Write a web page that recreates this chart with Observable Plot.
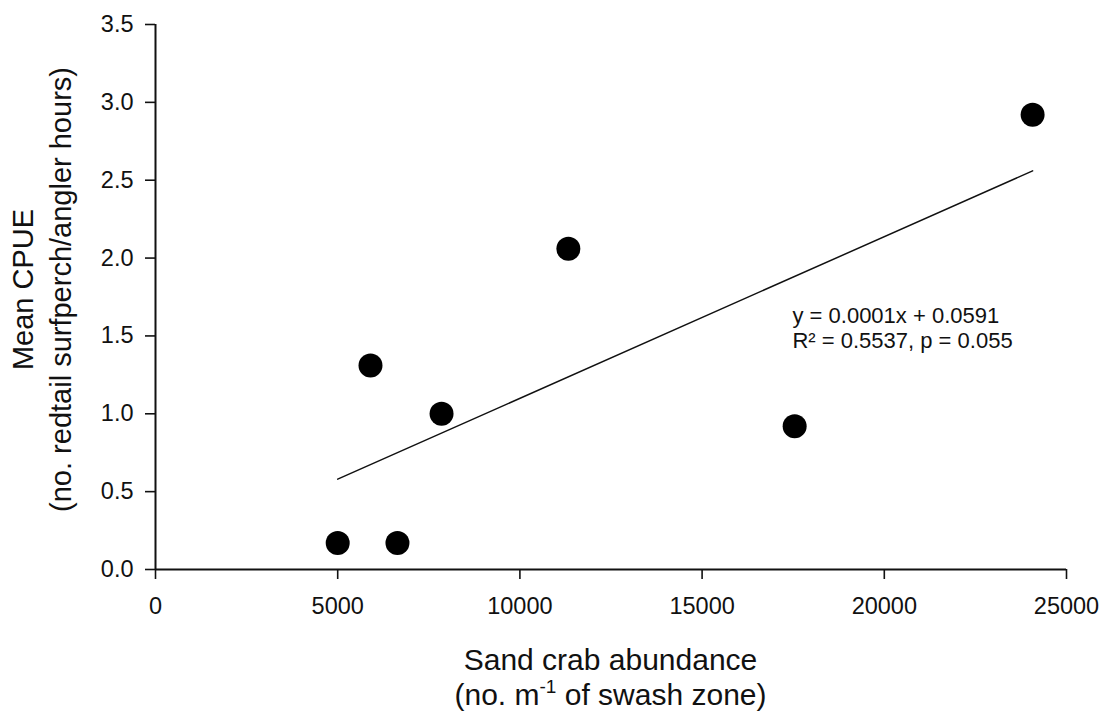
<!DOCTYPE html>
<html>
<head>
<meta charset="utf-8">
<script src="https://cdn.jsdelivr.net/npm/d3@7"></script>
<script src="https://cdn.jsdelivr.net/npm/@observablehq/plot@0.6"></script>
<style>
  html, body { margin: 0; padding: 0; background: #fff; }
  #chart { width: 1103px; height: 712px; }
</style>
</head>
<body>
<div id="chart"></div>
<script>
// ---- data ----
const crabAbundance = [5000, 6640, 5900, 7850, 11330, 17540, 24070];
const meanCPUE      = [0.17, 0.17, 1.31, 1.00, 2.06, 0.92, 2.92];

// fitted regression line (y = 0.0001x + 0.0591), endpoints as drawn
const fitX = [5000, 24070];
const fitY = [0.58, 2.56];

const xTicks = [0, 5000, 10000, 15000, 20000, 25000];
const yTicks = [0, 0.5, 1.0, 1.5, 2.0, 2.5, 3.0, 3.5];

const eqLines = ["y = 0.0001x + 0.0591", "R\u00B2 = 0.5537, p = 0.055"];
const eqX = [17480, 17480];
const eqY = [1.585, 1.42];

const xTitle1 = "Sand crab abundance";
const xTitle2 = ["(no. m", "-1", " of swash zone)"];
const yTitle1 = "Mean CPUE";
const yTitle2 = "(no. redtail surfperch/angler hours)";

// ---- tables for the library ----
const points = crabAbundance.map((x, i) => ({x, y: meanCPUE[i]}));
const fit = fitX.map((x, i) => ({x, y: fitY[i]}));
const eq = eqLines.map((t, i) => ({t, x: eqX[i], y: eqY[i]}));

const FONT = "'Liberation Sans', Arial, Helvetica, sans-serif";

const chart = Plot.plot({
  width: 1103,
  height: 712,
  marginLeft: 155,
  marginRight: 37,
  marginTop: 24,
  marginBottom: 143,
  style: {fontFamily: FONT, fontSize: "23px", color: "#111", background: "#fff", overflow: "visible"},
  x: {domain: [0, 25000]},
  y: {domain: [0, 3.5]},
  marks: [
    Plot.axisX({ticks: xTicks, tickSize: 10, tickPadding: 18, tickFormat: d => String(d), label: null, strokeWidth: 1.6, fontSize: 23.5}),
    Plot.axisY({ticks: yTicks, tickSize: 10, tickPadding: 12, tickFormat: d => d.toFixed(1), label: null, strokeWidth: 1.6, fontSize: 23.5}),
    Plot.ruleX([0], {stroke: "#111", strokeWidth: 2}),
    Plot.ruleY([0], {stroke: "#111", strokeWidth: 2}),
    Plot.line(fit, {x: "x", y: "y", stroke: "#111", strokeWidth: 1.5}),
    Plot.dot(points, {x: "x", y: "y", r: 12, fill: "#000", stroke: "none"}),
    Plot.text(eq, {x: "x", y: "y", text: "t", textAnchor: "start", lineAnchor: "bottom", fontSize: 22, fill: "#111"})
  ]
});

document.getElementById("chart").appendChild(chart);

// ---- axis titles (multi-line, with superscript) ----
const xs = chart.scale("x"), ys = chart.scale("y");
const svg = d3.select(chart);
const cx = (xs.range[0] + xs.range[1]) / 2;
const y0 = ys.apply(0);

const xt = svg.append("g").attr("font-family", FONT).attr("font-size", 30).attr("fill", "#111").attr("text-anchor", "middle");
xt.append("text").attr("x", cx).attr("y", y0 + 101).text(xTitle1);
const l2 = xt.append("text").attr("x", cx).attr("y", y0 + 136);
l2.append("tspan").text(xTitle2[0]);
l2.append("tspan").attr("dy", -12).attr("font-size", 19).text(xTitle2[1]);
l2.append("tspan").attr("dy", 12).text(xTitle2[2]);

const cy = (ys.range[0] + ys.range[1]) / 2 - 7;
const yt = svg.append("g").attr("font-family", FONT).attr("font-size", 29).attr("fill", "#111").attr("text-anchor", "middle");
yt.append("text").attr("transform", `translate(33,${cy}) rotate(-90)`).text(yTitle1);
yt.append("text").attr("transform", `translate(71,${cy}) rotate(-90)`).text(yTitle2);
</script>
</body>
</html>
